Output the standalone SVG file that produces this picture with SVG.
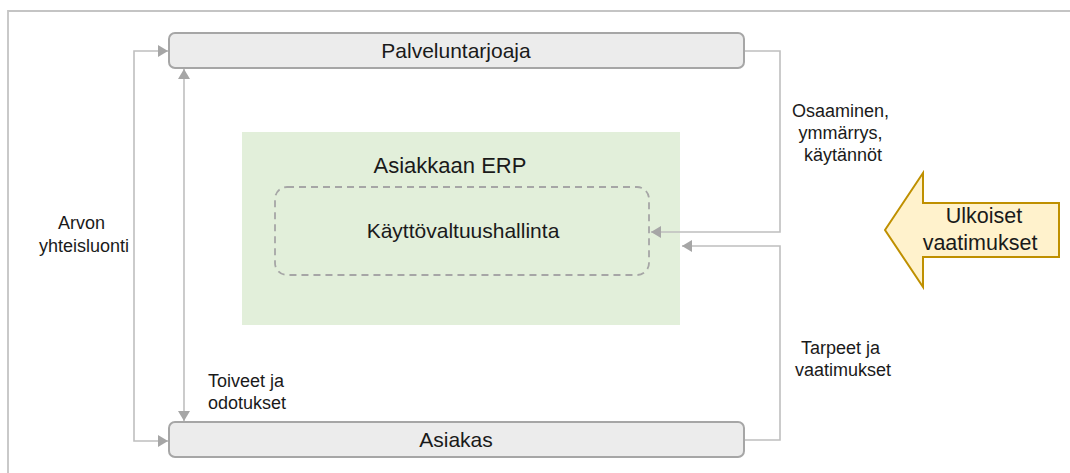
<svg xmlns="http://www.w3.org/2000/svg" width="1070" height="473" viewBox="0 0 1070 473">
  <style>
    .txt { font-family: "Liberation Sans", Arial, sans-serif; fill: #1a1a1a; }
    .big { font-size: 21px; }
    .lbl { font-size: 18px; }
    .bar { fill: #ececec; stroke: #a6a6a6; stroke-width: 2; }
    .link { fill: none; stroke: #bfbfbf; stroke-width: 1.6; }
  </style>
  <defs>
    <marker id="head" viewBox="0 0 10 12" refX="10" refY="6" markerWidth="10" markerHeight="12" markerUnits="userSpaceOnUse" orient="auto-start-reverse">
      <path d="M0,0 L10,6 L0,12 Z" fill="#a6a6a6"/>
    </marker>
  </defs>

  <!-- outer frame -->
  <path d="M8,473 V11 H1070" fill="none" stroke="#c4c4c4" stroke-width="1.8"/>

  <!-- ERP area -->
  <g id="erp">
    <rect x="242" y="132" width="438" height="193" fill="#e2efda"/>
    <text class="txt" x="450" y="173" font-size="22" text-anchor="middle">Asiakkaan ERP</text>
  </g>

  <g id="kayttovaltuushallinta">
    <rect x="275" y="187" width="374" height="88" rx="12" fill="none" stroke="#a6a6a6" stroke-width="1.8" stroke-dasharray="7,5"/>
    <text class="txt big" x="463" y="238" text-anchor="middle">Käyttövaltuushallinta</text>
  </g>

  <g id="palveluntarjoaja">
    <rect class="bar" x="169" y="33" width="575" height="35" rx="6"/>
    <text class="txt big" x="456" y="58" text-anchor="middle">Palveluntarjoaja</text>
  </g>

  <g id="asiakas">
    <rect class="bar" x="169" y="422" width="575" height="35" rx="6"/>
    <text class="txt big" x="456" y="447" text-anchor="middle">Asiakas</text>
  </g>

  <g id="ulkoiset">
    <polygon points="885,230 923,173 923,203 1059,203 1059,257 923,257 923,287" fill="#fff2cc" stroke="#bf9000" stroke-width="2" stroke-linejoin="miter"/>
    <text class="txt" font-size="21.5" x="984" y="223" text-anchor="middle">Ulkoiset</text>
    <text class="txt" font-size="21.5" x="980" y="250" text-anchor="middle">vaatimukset</text>
  </g>

  <!-- connectors -->
  <g id="connectors">
    <polyline class="link" points="168,51 134,51 134,441 168,441" marker-start="url(#head)" marker-end="url(#head)"/>
    <line class="link" x1="184" y1="69" x2="184" y2="421" marker-start="url(#head)" marker-end="url(#head)"/>
    <polyline class="link" points="745,51 780,51 780,232 651,232" marker-end="url(#head)"/>
    <polyline class="link" points="745,440 780,440 780,246 682,246" marker-end="url(#head)"/>
  </g>

  <!-- connector labels -->
  <g id="labels">
    <text class="txt lbl" text-anchor="middle">
      <tspan x="84" y="229">Arvon</tspan>
      <tspan x="84" y="252">yhteisluonti</tspan>
    </text>
    <text class="txt lbl" text-anchor="middle">
      <tspan x="843" y="117">Osaaminen,</tspan>
      <tspan x="843" y="139">ymmärrys,</tspan>
      <tspan x="843" y="161">käytännöt</tspan>
    </text>
    <text class="txt lbl" text-anchor="middle">
      <tspan x="843" y="354">Tarpeet ja</tspan>
      <tspan x="843" y="376">vaatimukset</tspan>
    </text>
    <text class="txt lbl">
      <tspan x="208" y="387">Toiveet ja</tspan>
      <tspan x="208" y="409">odotukset</tspan>
    </text>
  </g>
</svg>
